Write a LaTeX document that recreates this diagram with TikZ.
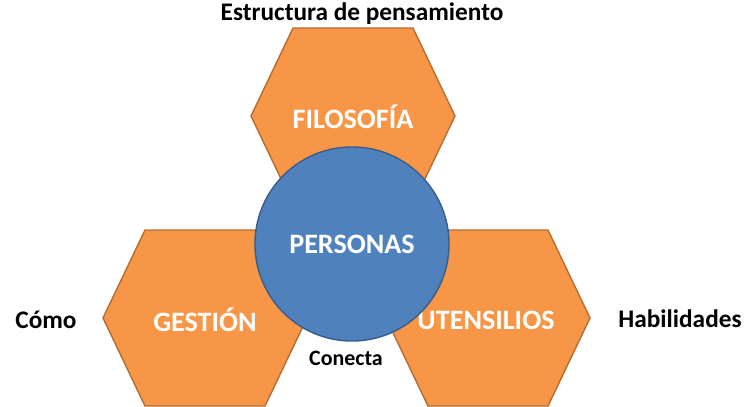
\documentclass[tikz,border=0pt]{standalone}
\usepackage{fontspec}
\setmainfont{Carlito}
\usepackage{tikz}

\definecolor{hexfill}{HTML}{F79646}
\definecolor{hexline}{HTML}{B66D31}
\definecolor{circfill}{HTML}{4F81BD}
\definecolor{circline}{HTML}{385D8A}

\tikzset{
  hexa/.style={fill=hexfill, draw=hexline, line width=1pt},
  hexlabel/.style={text=white, font=\fontsize{20}{24}\selectfont\bfseries},
  sidelabel/.style={text=black, font=\fontsize{18}{21}\selectfont\bfseries},
  people/.style={circle, fill=circfill, draw=circline, line width=1pt, minimum size=4.85cm, inner sep=0pt}
}

\newcommand{\drawhex}[1]{%
  \draw[hexa, shift={(#1)}] (-102,0) -- (-60,-88) -- (60,-88) -- (102,0) -- (60,88) -- (-60,88) -- cycle;}

\begin{document}
\begin{tikzpicture}[x=0.025cm, y=-0.025cm]
			\useasboundingbox (0,0) rectangle (744,407);
			% hexagons
			\drawhex{353,116}
			\drawhex{205,318}
			\drawhex{488,318}
			\node[hexlabel] (filosofia) at (353,117) {FILOSOFÍA};
			\node[hexlabel] (gestion) at (205,320) {GESTIÓN};
			\node[hexlabel] (utensilios) at (486,320) {UTENSILIOS};
			% centre
			\node[people] (personas) at (352,244) {};
			\node[hexlabel] (personaslbl) at (personas) {PERSONAS};
			% outer texts
			\node[sidelabel] (estructura) at (362,14) {Estructura de pensamiento};
			\node[sidelabel] (como) at (46,320) {Cómo};
			\node[sidelabel] (habilidades) at (680,319) {Habilidades};
			\node[sidelabel, font=\fontsize{15.6}{18}\selectfont\bfseries] (conecta) at (346,358) {Conecta};
		\end{tikzpicture}
\end{document}
